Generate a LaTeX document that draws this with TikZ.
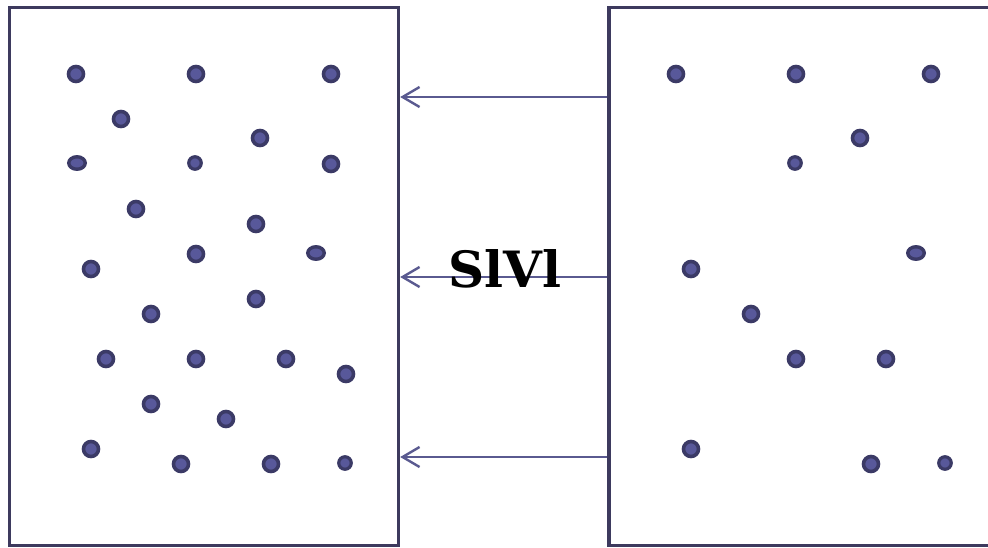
\documentclass[tikz,border=0pt]{standalone}
\usepackage{tikz}
\usepackage{xcolor}
\usepackage{fontspec}
\usetikzlibrary{positioning,arrows.meta,shapes.geometric}
\newfontfamily\titlefont{DejaVu Serif}
\definecolor{panelgrey}{HTML}{3D3A5E}
\definecolor{dotring}{HTML}{3B3A66}
\definecolor{dotcore}{HTML}{58589A}
\definecolor{arrowblue}{HTML}{5A5A90}
\tikzset{
  panel/.style={
    draw=panelgrey, line width=3.4pt, inner sep=0pt,
    minimum width=389pt, minimum height=538pt,
  },
  dot/.style ={circle, draw=dotring, fill=dotcore, line width=3.6pt,
               inner sep=0pt, minimum size=15pt},
  sdot/.style={dot, line width=3.2pt, minimum size=12.5pt},
  edot/.style={ellipse, draw=dotring, fill=dotcore, line width=3.4pt,
               inner sep=0pt, minimum width=16.5pt, minimum height=12.5pt},
  flow/.style={-{Straight Barb[length=17pt,width=20pt,line width=2.4pt]},
               draw=arrowblue, line width=2.4pt},
  bigtitle/.style={font=\titlefont\fontsize{50}{60}\selectfont\bfseries,
                   inner sep=0pt},
}

\begin{document}
\begin{tikzpicture}[x=1pt, y=-1pt]
\useasboundingbox (0,0) rectangle (988,547);
\clip (0,0) rectangle (988,547);

% ============================================ the two panels
\node[panel] (leftpanel)  at (204,276.5) {};
\node[panel] (rightpanel) at (803.5,276.5) {};

% ============================================ dots, left panel
\foreach \x/\y [count=\i] in {76/74, 196/74, 331/74, 121/119, 260/138, 331/164,
    136/209, 256/224, 91/269, 196/254, 151/314, 256/299, 106/359, 196/359,
    286/359, 346/374, 151/404, 226/419, 91/449, 181/464, 271/464}
  \node[dot] (l\i) at (\x,\y) {};
\node[edot] (le1) at (77,163) {};
\node[edot] (le2) at (316,253) {};
\node[sdot] (ls1) at (195,163) {};
\node[sdot] (ls2) at (345,463) {};

% ============================================ dots, right panel
\foreach \x/\y [count=\i] in {676/74, 796/74, 931/74, 860/138, 691/269,
    751/314, 796/359, 886/359, 691/449, 871/464}
  \node[dot] (r\i) at (\x,\y) {};
\node[edot] (re1) at (916,253) {};
\node[sdot] (rs1) at (795,163) {};
\node[sdot] (rs2) at (945,463) {};

% ============================================ arrows from right to left
\foreach \y in {97,277,457}
  \draw[flow] (rightpanel.west |- 0,\y) -- (leftpanel.east |- 0,\y);

\node[bigtitle, anchor=base] (title) at (505,287) {SlVl};

\end{tikzpicture}
\end{document}
